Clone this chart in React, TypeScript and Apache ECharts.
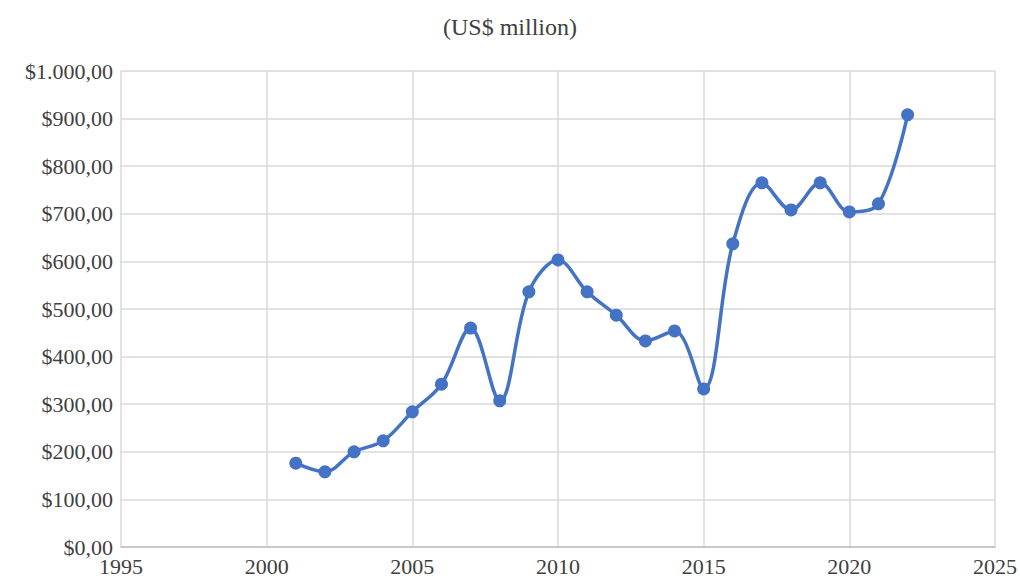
import React, { useEffect, useRef } from "react";
import * as echarts from "echarts";

const years = [2001, 2002, 2003, 2004, 2005, 2006, 2007, 2008, 2009, 2010, 2011, 2012, 2013, 2014, 2015, 2016, 2017, 2018, 2019, 2020, 2021, 2022];
const values = [176, 158, 200, 223, 284, 342, 460, 307, 536, 603, 536, 487, 433, 454, 332, 637, 765, 708, 765, 704, 721, 908];
const titleText = "(US$ million)";

function fmtMoney(v: number): string {
  const intPart = Math.round(v).toString().replace(/\B(?=(\d{3})+(?!\d))/g, ".");
  return "$" + intPart + ",00";
}

export default function App() {
  const ref = useRef<HTMLDivElement>(null);
  useEffect(() => {
    if (!ref.current) return;
    const chart = echarts.init(ref.current, undefined, { renderer: "svg" });
    const font = "'Liberation Serif', 'Times New Roman', serif";
    chart.setOption({
      animation: false,
      backgroundColor: "#ffffff",
      title: {
        text: titleText,
        left: "center",
        top: 10,
        textStyle: { fontFamily: font, fontSize: 24, fontWeight: "normal", color: "#404040" },
      },
      grid: { left: 121, right: 23, top: 71, bottom: 31 },
      xAxis: {
        type: "value",
        min: 1995,
        max: 2025,
        interval: 5,
        axisLine: { show: true, lineStyle: { color: "#bfbfbf", width: 1.5 } },
        axisTick: { show: false },
        splitLine: { show: true, lineStyle: { color: "#d9d9d9", width: 1.5 } },
        axisLabel: { fontFamily: font, fontSize: 22, lineHeight: 18, color: "#404040", margin: 10, formatter: (v: number) => String(v) },
      },
      yAxis: {
        type: "value",
        min: 0,
        max: 1000,
        interval: 100,
        axisLine: { show: false },
        axisTick: { show: false },
        splitLine: { show: true, lineStyle: { color: "#d9d9d9", width: 1.5 } },
        axisLabel: { fontFamily: font, fontSize: 22, lineHeight: 18, color: "#404040", margin: 8, formatter: (v: number) => fmtMoney(v) },
      },
      series: [
        {
          type: "line",
          data: years.map((y, i) => [y, values[i]]),
          smooth: 0.35,
          symbol: "circle",
          symbolSize: 13,
          lineStyle: { color: "#4472C4", width: 3.5 },
          itemStyle: { color: "#4472C4" },
        },
      ],
    });
    return () => chart.dispose();
  }, []);
  return <div ref={ref} style={{ width: 1020, height: 578, position: "absolute", left: 0, top: 0 }} />;
}
